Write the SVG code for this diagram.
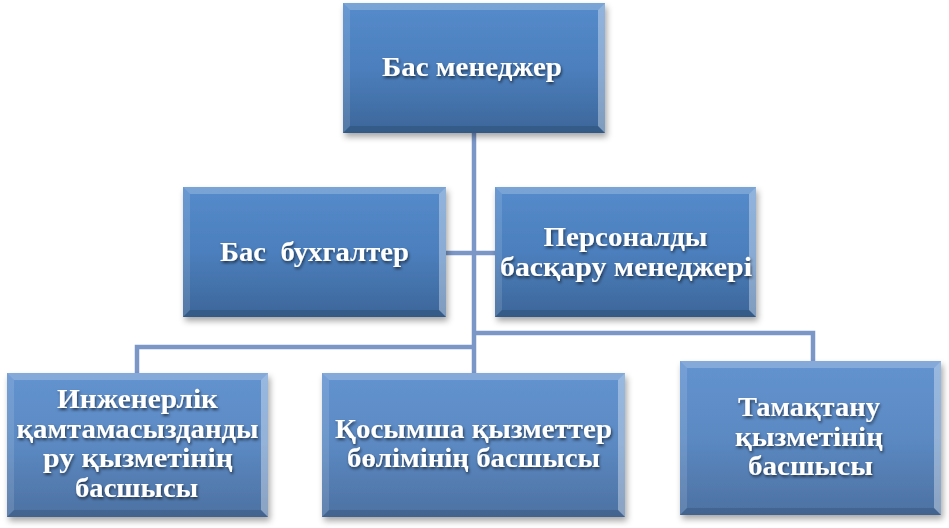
<svg xmlns="http://www.w3.org/2000/svg" width="949" height="528" viewBox="0 0 949 528">
<defs>
<linearGradient id="g1" x1="0" y1="0" x2="0" y2="1">
<stop offset="0" stop-color="#558bcb"/>
<stop offset="0.5" stop-color="#4c7fbd"/>
<stop offset="1" stop-color="#3c6699"/>
</linearGradient>
<linearGradient id="g2" x1="0" y1="0" x2="0" y2="1">
<stop offset="0" stop-color="#6393d0"/>
<stop offset="0.5" stop-color="#5b89c2"/>
<stop offset="1" stop-color="#4d71a2"/>
</linearGradient>
<filter id="sh" x="-10%" y="-10%" width="125%" height="130%">
<feDropShadow dx="2" dy="4" stdDeviation="3" flood-color="#000" flood-opacity="0.35"/>
</filter>
<filter id="ts" x="-10%" y="-30%" width="120%" height="160%">
<feDropShadow dx="1" dy="2" stdDeviation="1.5" flood-color="#000" flood-opacity="0.6"/>
</filter>
</defs>
<style>
.b1{fill:url(#g1);filter:url(#sh)}
.b2{fill:url(#g2);filter:url(#sh)}
.bt{fill:#fff;fill-opacity:.22}
.bl{fill:#fff;fill-opacity:.12}
.br{fill:#fff;fill-opacity:.35}
.bb{fill:#000;fill-opacity:.12}
.t{font-family:"Liberation Serif","Times New Roman",serif;font-weight:bold;font-size:28px;fill:#fff;text-anchor:middle;filter:url(#ts)}
.c{fill:none;stroke:#7b97c7;stroke-width:4.5}
</style>
<g id="connectors">
<path class="c" d="M474 132 V373"/>
<path class="c" d="M446 253 H495"/>
<path class="c" d="M474 333 H813 V361"/>
<path class="c" d="M474 347 H137 V373"/>
</g>
<g id="n1">
<rect class="b1" x="343" y="3" width="262" height="130"/>
<polygon class="bt" points="343,3 605,3 598,10 350,10"/>
<polygon class="bl" points="343,3 350,10 350,126 343,133"/>
<polygon class="br" points="605,3 605,133 598,126 598,10"/>
<polygon class="bb" points="343,133 350,126 598,126 605,133"/>
<text class="t" x="472" y="76" textLength="180" lengthAdjust="spacingAndGlyphs">Бас менеджер</text>
</g>
<g id="n2">
<rect class="b1" x="183" y="187" width="263" height="130"/>
<polygon class="bt" points="183,187 446,187 439,194 190,194"/>
<polygon class="bl" points="183,187 190,194 190,310 183,317"/>
<polygon class="br" points="446,187 446,317 439,310 439,194"/>
<polygon class="bb" points="183,317 190,310 439,310 446,317"/>
<text class="t" x="314.5" y="261" textLength="189" lengthAdjust="spacingAndGlyphs" xml:space="preserve">Бас  бухгалтер</text>
</g>
<g id="n3">
<rect class="b1" x="495" y="187" width="261" height="130"/>
<polygon class="bt" points="495,187 756,187 749,194 502,194"/>
<polygon class="bl" points="495,187 502,194 502,310 495,317"/>
<polygon class="br" points="756,187 756,317 749,310 749,194"/>
<polygon class="bb" points="495,317 502,310 749,310 756,317"/>
<text class="t" x="625.5" y="246" textLength="164" lengthAdjust="spacingAndGlyphs">Персоналды</text>
<text class="t" x="626" y="276" textLength="252" lengthAdjust="spacingAndGlyphs">басқару менеджері</text>
</g>
<g id="n4">
<rect class="b2" x="7" y="373" width="261" height="144"/>
<polygon class="bt" points="7,373 268,373 261,380 14,380"/>
<polygon class="bl" points="7,373 14,380 14,510 7,517"/>
<polygon class="br" points="268,373 268,517 261,510 261,380"/>
<polygon class="bb" points="7,517 14,510 261,510 268,517"/>
<text class="t" x="137.5" y="408" textLength="161" lengthAdjust="spacingAndGlyphs">Инженерлік</text>
<text class="t" x="137.5" y="438" textLength="242" lengthAdjust="spacingAndGlyphs">қамтамасызданды</text>
<text class="t" x="138" y="467" textLength="190" lengthAdjust="spacingAndGlyphs">ру қызметінің</text>
<text class="t" x="136.5" y="497" textLength="123" lengthAdjust="spacingAndGlyphs">басшысы</text>
</g>
<g id="n5">
<rect class="b2" x="322" y="373" width="303" height="144"/>
<polygon class="bt" points="322,373 625,373 618,380 329,380"/>
<polygon class="bl" points="322,373 329,380 329,510 322,517"/>
<polygon class="br" points="625,373 625,517 618,510 618,380"/>
<polygon class="bb" points="322,517 329,510 618,510 625,517"/>
<text class="t" x="473.5" y="438" textLength="277" lengthAdjust="spacingAndGlyphs">Қосымша қызметтер</text>
<text class="t" x="473.5" y="467" textLength="253" lengthAdjust="spacingAndGlyphs">бөлімінің басшысы</text>
</g>
<g id="n6">
<rect class="b2" x="680" y="361" width="261" height="154"/>
<polygon class="bt" points="680,361 941,361 934,368 687,368"/>
<polygon class="bl" points="680,361 687,368 687,508 680,515"/>
<polygon class="br" points="941,361 941,515 934,508 934,368"/>
<polygon class="bb" points="680,515 687,508 934,508 941,515"/>
<text class="t" x="809" y="416" textLength="142" lengthAdjust="spacingAndGlyphs">Тамақтану</text>
<text class="t" x="809" y="446" textLength="148" lengthAdjust="spacingAndGlyphs">қызметінің</text>
<text class="t" x="810.5" y="475" textLength="125" lengthAdjust="spacingAndGlyphs">басшысы</text>
</g>
</svg>
